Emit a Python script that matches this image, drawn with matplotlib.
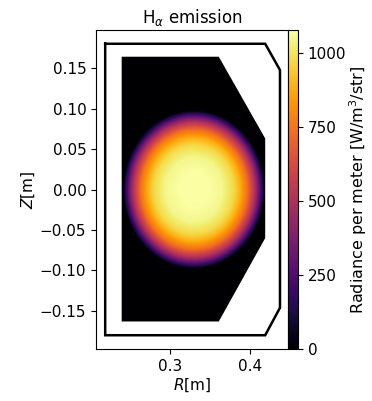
import numpy as np
import matplotlib
matplotlib.use("Agg")
import matplotlib.pyplot as plt
from matplotlib.patches import Polygon
from matplotlib import cm, colors

# Vessel wall outline (R, Z) in metres
wall_R = [0.219, 0.419, 0.4375, 0.4375, 0.419, 0.219, 0.219]
wall_Z = [0.180, 0.180, 0.1475, -0.146, -0.180, -0.180, 0.180]

# Emission domain polygon (R, Z)
dom_R = [0.2396, 0.361, 0.419, 0.419, 0.361, 0.2396]
dom_Z = [0.164, 0.164, 0.063, -0.060, -0.163, -0.163]

# Emission blob: centre and semi-axes (m)
centre_R, centre_Z = 0.330, 0.0
semi_R, semi_Z = 0.089, 0.098

# Radial emission profile (normalised radius -> W/m^3/str)
rho_prof = [0.0, 0.2, 0.4, 0.56, 0.65, 0.75, 0.85, 0.92, 1.0, 2.0]
val_prof = [1078, 1076, 1050, 975, 885, 740, 520, 300, 0, 0]

vmax = 1078
cbar_ticks = [0, 250, 500, 750, 1000]
x_ticks = [0.3, 0.4]
y_ticks = [-0.15, -0.10, -0.05, 0.00, 0.05, 0.10, 0.15]

fig = plt.figure(figsize=(3.72, 4.01), dpi=100)
ax = fig.add_axes([96/372, 52/401, 192/372, 319/401])
cax = fig.add_axes([288/372, 52/401, 10/372, 319/401])

xlim = (0.2075, 0.4475)
ylim = (-0.197, 0.197)
Rg = np.linspace(xlim[0], xlim[1], 600)
Zg = np.linspace(ylim[0], ylim[1], 1000)
RR, ZZ = np.meshgrid(Rg, Zg)
rho = np.sqrt(((RR - centre_R) / semi_R) ** 2 + ((ZZ - centre_Z) / semi_Z) ** 2)
field = np.interp(rho, rho_prof, val_prof)

norm = colors.Normalize(vmin=0, vmax=vmax)
im = ax.imshow(field, origin="lower", extent=(xlim[0], xlim[1], ylim[0], ylim[1]),
               cmap="inferno", norm=norm, interpolation="bilinear")
clip = Polygon(np.column_stack([dom_R, dom_Z]), closed=True, transform=ax.transData,
               facecolor="none", edgecolor="none")
ax.add_patch(clip)
im.set_clip_path(clip)

ax.plot(wall_R, wall_Z, color="black", lw=1.8, solid_joinstyle="miter")

ax.set_xlim(*xlim)
ax.set_ylim(*ylim)
ax.set_aspect("auto")
ax.set_xticks(x_ticks)
ax.set_xticklabels(["0.3", "0.4"])
ax.set_yticks(y_ticks)
ax.set_yticklabels([f"{v:.2f}".replace("-", "\u2212") for v in y_ticks])
ax.tick_params(labelsize=11)
ax.set_xlabel("$R$[m]", fontsize=11, labelpad=2)
ax.set_ylabel("$Z$[m]", fontsize=11, labelpad=2)
ax.set_title(r"H$_\alpha$ emission", fontsize=12, pad=5)

cb = fig.colorbar(cm.ScalarMappable(norm=norm, cmap="inferno"), cax=cax)
cb.set_ticks(cbar_ticks)
cb.ax.tick_params(labelsize=11)
cb.set_label("Radiance per meter [W/m$^3$/str]", fontsize=11.5, labelpad=1)
cb.outline.set_linewidth(0.8)

fig.savefig("out.png", dpi=100, facecolor="white")
